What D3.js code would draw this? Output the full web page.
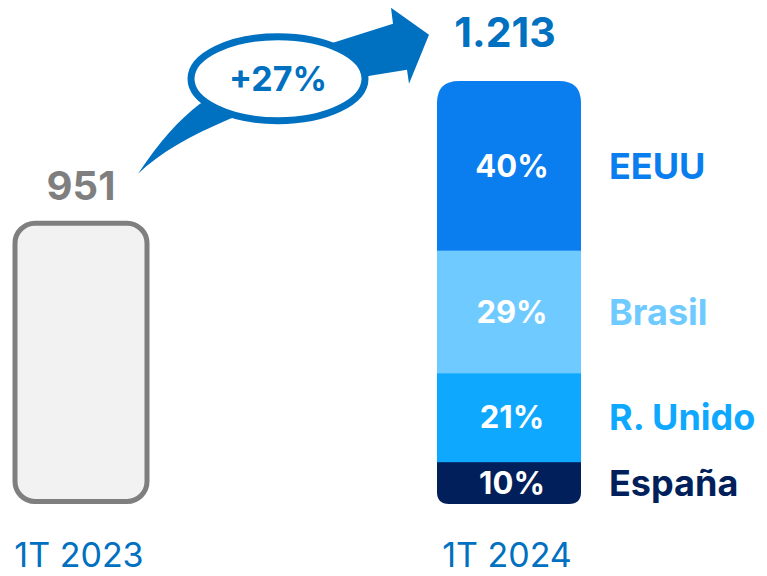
<!DOCTYPE html>
<html lang="es">
<head>
<meta charset="UTF-8">
<title>1T 2023 vs 1T 2024</title>
<script src="https://cdn.jsdelivr.net/npm/d3@7"></script>
<style>
    html, body { margin: 0; padding: 0; background: #fff; }
    svg text { font-family: Inter, "Noto Sans", sans-serif; }
</style>
</head>
<body>
<div id="chart"></div>
<script>
    // data
    const periods = ['1T 2023', '1T 2024']
    const totals = [951, 1213]
    const totalLabels = ['951', '1.213']
    const growthLabel = '+27%'
    const countries = ['España', 'R. Unido', 'Brasil', 'EEUU']   // bottom -> top
    const shares = [10, 21, 29, 40]
    const colors = ['#001f5b', '#0ea8ff', '#6fcbff', '#0b7eef']

    const width = 767, height = 576
    const baseline = 504, barW = 144
    const blue = '#0070c0', grey = '#7f7f7f'

    const svg = d3.select('#chart').append('svg').attr('width', width).attr('height', height)

    const x = d3.scalePoint().domain(periods).range([81, 509])
    // the original chart does not start its axis at zero
    const y = d3.scaleLinear().domain([420, 1213]).range([baseline, 81])

    // 1T 2023 bar (outlined)
    const x0 = x(periods[0])
    svg.append('rect')
        .attr('x', x0 - barW / 2 + 6)
        .attr('y', y(totals[0]) + 2.5)
        .attr('width', barW - 12)
        .attr('height', baseline - 5 - y(totals[0]))
        .attr('rx', 20)
        .attr('fill', '#f2f2f2')
        .attr('stroke', grey)
        .attr('stroke-width', 5)

    svg.append('text')
        .attr('x', x0)
        .attr('y', y(totals[0]) - 21)
        .attr('text-anchor', 'middle')
        .attr('font-size', 40).attr('font-weight', 700)
        .attr('fill', grey)
        .text(totalLabels[0])

    // 1T 2024 stacked bar
    const x1 = x(periods[1])
    const barTop = y(totals[1])
    const share = d3.scaleLinear().domain([0, 100]).range([baseline, barTop])
    const stack = d3.stack().keys(countries)([Object.fromEntries(countries.map((c, i) => [c, shares[i]]))])

    const l = x1 - barW / 2, r = x1 + barW / 2, rt = 22, rb = 12
    const clip = d3.path()
    clip.moveTo(l, barTop + rt)
    clip.quadraticCurveTo(l, barTop, l + rt, barTop)
    clip.lineTo(r - rt, barTop)
    clip.quadraticCurveTo(r, barTop, r, barTop + rt)
    clip.lineTo(r, baseline - rb)
    clip.quadraticCurveTo(r, baseline, r - rb, baseline)
    clip.lineTo(l + rb, baseline)
    clip.quadraticCurveTo(l, baseline, l, baseline - rb)
    clip.closePath()
    svg.append('clipPath').attr('id', 'barclip').append('path').attr('d', clip.toString())

    svg.append('g').attr('clip-path', 'url(#barclip)')
        .selectAll('rect').data(stack).join('rect')
        .attr('x', l)
        .attr('y', d => share(d[0][1]))
        .attr('width', barW)
        .attr('height', d => share(d[0][0]) - share(d[0][1]) + 0.5)
        .attr('fill', (d, i) => colors[i])

    svg.append('g').selectAll('text').data(stack).join('text')
        .attr('x', x1 + 3)
        .attr('y', d => (share(d[0][0]) + share(d[0][1])) / 2 + 11)
        .attr('text-anchor', 'middle')
        .attr('font-size', 31).attr('font-weight', 700)
        .attr('fill', '#fff')
        .text((d, i) => shares[i] + '%')

    svg.append('g').selectAll('text').data(stack).join('text')
        .attr('x', r + 28)
        .attr('y', d => (share(d[0][0]) + share(d[0][1])) / 2 + 13)
        .attr('font-size', 36).attr('font-weight', 700)
        .attr('fill', (d, i) => colors[i])
        .text((d, i) => countries[i])

    svg.append('text')
        .attr('x', x1 - 4)
        .attr('y', barTop - 34)
        .attr('text-anchor', 'middle')
        .attr('font-size', 41).attr('font-weight', 700)
        .attr('fill', blue)
        .text(totalLabels[1])

    // period labels
    svg.append('g').selectAll('text').data(periods).join('text')
        .attr('x', d => x(d) - 2)
        .attr('y', 567)
        .attr('text-anchor', 'middle')
        .attr('font-size', 34)
        .attr('fill', blue)
        .text(d => d)

    // growth arrow, drawn in a frame anchored between the two value labels
    const ax = x0 + 57, ay = y(totals[0]) - 47
    const arrow = svg.append('g').attr('transform', `translate(${ax},${ay})`)
    arrow.append('path')
        .attr('d', 'M0,0 C22,-33 42,-55 62,-70 L195,-131 L255,-150 L253,-166 L291,-139 L271,-90 L269,-104 L232,-98 L92,-55 C52,-38 22,-21 0,0 Z')
        .attr('fill', blue)
    arrow.append('ellipse')
        .attr('cx', 140).attr('cy', -95)
        .attr('rx', 87).attr('ry', 42)
        .attr('fill', '#fff')
        .attr('stroke', blue).attr('stroke-width', 7)
    arrow.append('text')
        .attr('x', 140).attr('y', -83)
        .attr('text-anchor', 'middle')
        .attr('font-size', 34).attr('font-weight', 700)
        .attr('fill', blue)
        .text(growthLabel)
</script>
</body>
</html>
